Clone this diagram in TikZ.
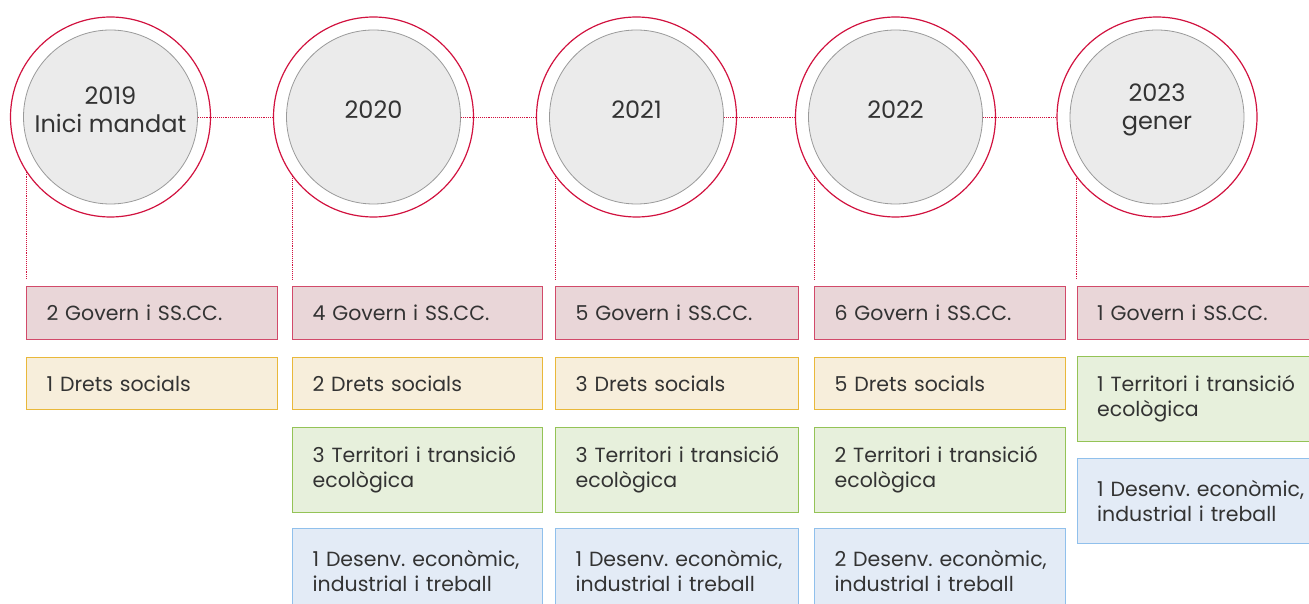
\documentclass[tikz,border=0pt]{standalone}
\usepackage{fontspec}
\setmainfont{Poppins}
\frenchspacing
\usetikzlibrary{positioning}
\definecolor{ringred}{HTML}{D1123F}
\definecolor{discdraw}{HTML}{9A9A9A}
\definecolor{discfill}{HTML}{EBEBEB}
\definecolor{txtgray}{HTML}{333333}
\definecolor{govfill}{HTML}{E9D6D8}
\definecolor{govdraw}{HTML}{D24A6A}
\definecolor{socfill}{HTML}{F7EEDB}
\definecolor{socdraw}{HTML}{E9B83A}
\definecolor{terfill}{HTML}{E7F0DC}
\definecolor{terdraw}{HTML}{94C356}
\definecolor{desfill}{HTML}{E3EBF6}
\definecolor{desdraw}{HTML}{90C0EC}

\begin{document}
\begin{tikzpicture}[x=1pt,y=-1pt,font=\fontsize{20.5}{25}\selectfont,text=txtgray,
	ring/.style={circle,draw=ringred,line width=1.2pt,fill=white,minimum size=200pt,inner sep=0pt},
	disc/.style={circle,draw=discdraw,fill=discfill,line width=0.8pt,minimum size=174pt,inner sep=0pt},
	link/.style={draw=ringred,densely dotted,line width=0.9pt},
	card/.style={line width=1pt,align=left,inner xsep=20pt,inner ysep=0pt,text width=#1},
	gov/.style={card=#1,draw=govdraw,fill=govfill,minimum height=53pt},
	soc/.style={card=#1,draw=socdraw,fill=socfill,minimum height=52pt},
	ter/.style={card=#1,draw=terdraw,fill=terfill,minimum height=85pt},
	des/.style={card=#1,draw=desdraw,fill=desfill,minimum height=85pt}]
	\path[use as bounding box,clip] (0,0) rectangle (1309,604);
	
	% Circles
	\foreach \n/\cx/\yr in {1/110.5/{2019\\Inici mandat},2/373.5/2020,3/636.5/2021,4/895.5/2022,5/1157/{2023\\gener}}{
		\node[ring] (ring\n) at (\cx,117) {};
		\node[disc] (disc\n) at (\cx,117) {};
		\node[align=center,font=\fontsize{24}{28}\selectfont] (year\n) at (\cx,110) {\yr};
	}
	
	% Timeline
	\draw[link] (disc1.east) -- (ring2.west);
	\draw[link] (disc2.east) -- (ring3.west);
	\draw[link] (disc3.east) -- (ring4.west);
	\draw[link] (disc4.east) -- (ring5.west);
	
	% 2019
	\node[gov=211pt,anchor=north west] (gov1) at (ring1.213 |- 0,286) {2 Govern i SS.CC.};
	\node[soc=211pt,below=17pt of gov1] (soc1) {1 Drets socials};
	
	% 2020
	\node[gov=210pt,anchor=north west] (gov2) at (ring2.216 |- 0,286) {4 Govern i SS.CC.};
	\node[soc=210pt,below=17pt of gov2] (soc2) {2 Drets socials};
	\node[ter=210pt,below=17pt of soc2] (ter2) {\mbox{3 Territori i transició}\\ecològica};
	\node[des=210pt,below=15pt of ter2] (des2) {\mbox{1 Desenv. econòmic,}\\\mbox{industrial i treball}};
	
	% 2021
	\node[gov=203pt,anchor=north west] (gov3) at (ring3.216 |- 0,286) {5 Govern i SS.CC.};
	\node[soc=203pt,below=17pt of gov3] (soc3) {3 Drets socials};
	\node[ter=203pt,below=17pt of soc3] (ter3) {\mbox{3 Territori i transició}\\ecològica};
	\node[des=203pt,below=15pt of ter3] (des3) {\mbox{1 Desenv. econòmic,}\\\mbox{industrial i treball}};
	
	% 2022
	\node[gov=211pt,anchor=north west] (gov4) at (ring4.216 |- 0,286) {6 Govern i SS.CC.};
	\node[soc=211pt,below=17pt of gov4] (soc4) {5 Drets socials};
	\node[ter=211pt,below=17pt of soc4] (ter4) {\mbox{2 Territori i transició}\\ecològica};
	\node[des=211pt,below=15pt of ter4] (des4) {\mbox{2 Desenv. econòmic,}\\\mbox{industrial i treball}};
	
	% 2023
	\node[gov=211pt,anchor=north west] (gov5) at (ring5.217 |- 0,286) {1 Govern i SS.CC.};
	\node[ter=211pt,below=16pt of gov5] (ter5) {\mbox{1 Territori i transició}\\ecològica};
	\node[des=211pt,below=16pt of ter5] (des5) {\mbox{1 Desenv. econòmic,}\\\mbox{industrial i treball}};
	
	% Drops
	\draw[link,shorten >=6pt] (ring1.213) -- (ring1.213 |- gov1.north);
	\draw[link,shorten >=6pt] (ring2.216) -- (ring2.216 |- gov2.north);
	\draw[link,shorten >=6pt] (ring3.216) -- (ring3.216 |- gov3.north);
	\draw[link,shorten >=6pt] (ring4.216) -- (ring4.216 |- gov4.north);
	\draw[link,shorten >=6pt] (ring5.217) -- (ring5.217 |- gov5.north);
\end{tikzpicture}
\end{document}
